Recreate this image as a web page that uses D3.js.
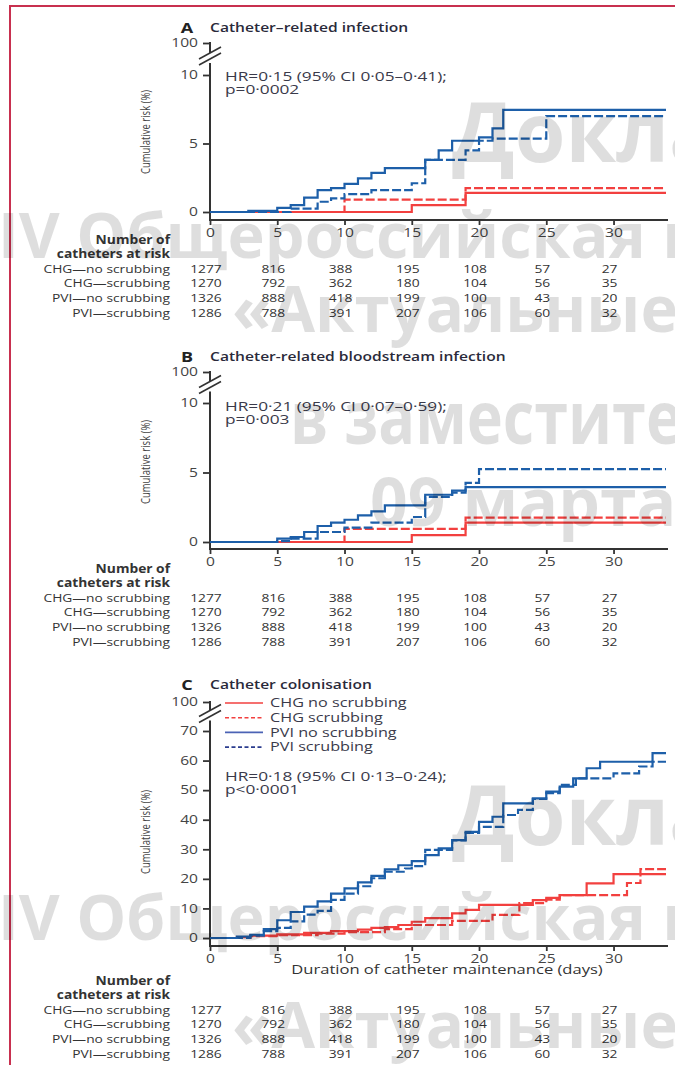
<!DOCTYPE html>
<html>
<head>
<meta charset="utf-8">
<script src="https://cdnjs.cloudflare.com/ajax/libs/d3/7.8.5/d3.min.js"></script>
<style>
  body { margin: 0; background: #fff; }
  svg { display: block; }
</style>
</head>
<body>
<script>
const W = 675, H = 1065;

// x ticks + numbers at risk (same table under every panel)
const days = [0, 5, 10, 15, 20, 25, 30];
const groups = ["CHG\u2014no scrubbing", "CHG\u2014scrubbing", "PVI\u2014no scrubbing", "PVI\u2014scrubbing"];
const legendLabels = ["CHG no scrubbing", "CHG scrubbing", "PVI no scrubbing", "PVI scrubbing"];
const riskChgNo    = [1277, 816, 388, 195, 108, 57, 27];
const riskChgScrub = [1270, 792, 362, 180, 104, 56, 35];
const riskPviNo    = [1326, 888, 418, 199, 100, 43, 20];
const riskPviScrub = [1286, 788, 391, 207, 106, 60, 32];

// step curves, [day, cumulative risk %] at each jump
const aChgNo    = [[0,0],[15,0.5],[19,1.4]];
const aChgScrub = [[0,0],[10,0.9],[19,1.75]];
const aPviNo    = [[0,0],[2.85,0.08],[5,0.3],[6,0.5],[7,1.05],[8,1.6],[9,1.75],[10,2.05],[11,2.45],[12,2.85],[13,3.2],[16,3.8],[17,4.5],[18,5.2],[20,5.45],[21,6.1],[21.8,7.45]];
const aPviScrub = [[0,0],[6,0.25],[8,0.75],[9,1.0],[10,1.3],[12,1.6],[15,2.1],[16,3.8],[19,4.5],[20,5.2],[21,5.35],[25,7.0]];

const bChgNo    = [[0,0],[15,0.5],[19,1.4]];
const bChgScrub = [[0,0],[10,0.95],[19,1.75]];
const bPviNo    = [[0,0],[5,0.24],[6,0.36],[7,0.72],[8,1.15],[9,1.4],[10,1.6],[11,1.92],[12,2.2],[13,2.64],[16,3.4],[18,3.7],[19,3.95]];
const bPviScrub = [[0,0],[5,0.07],[6,0.24],[8,0.72],[10,1.03],[12,1.4],[15,1.8],[16,3.25],[18,3.55],[19,4.25],[20,5.25]];

const cChgNo    = [[0,0],[2,0.3],[3,0.8],[5,1.2],[7,1.7],[9,2.3],[11,2.8],[12,3.4],[13,3.7],[14,4.4],[15,5.5],[16,6.7],[18,8.3],[19,9.5],[20,11.2],[24,12.8],[25,13.6],[26,14.5],[28,18.5],[30,21.6]];
const cChgScrub = [[0,0],[3,0.6],[5,1.0],[8,1.5],[10,2.0],[13,3.0],[15,4.4],[18,5.8],[21,7.8],[23,11.8],[25,13],[26,14.5],[31,18.6],[32,23.3]];
const cPviNo    = [[0,0],[2,0.5],[3,1.1],[4,3.0],[5,6.0],[6,8.8],[7,10.6],[8,12.4],[9,15],[10,16.8],[11,18.8],[12,21],[13,23.2],[14,24.6],[15,26],[16,28],[17,30.3],[18,33.1],[19,35.9],[20,39.3],[21,41],[21.8,45.5],[24,47.2],[25,49.5],[26,51.2],[27,54],[28,57.4],[29,59.6],[32.9,62.5]];
const cPviScrub = [[0,0],[3,0.8],[4,2.3],[5,3.4],[6,5.6],[7,7.9],[8,9.2],[9,12.9],[10,15],[11,17.5],[12,20.2],[13,22.4],[14.5,23.5],[15,24.3],[16,29.8],[18,33],[19,35.5],[20,37.6],[21.8,41.6],[22.9,43.3],[24,47],[25,49],[26,51.8],[27.2,54],[30,55.7],[31.9,58],[32.9,59.6]];

const watermark = ["\u0414\u043e\u043a\u043b\u0430", "IV \u041e\u0431\u0449\u0435\u0440\u043e\u0441\u0441\u0438\u0439\u0441\u043a\u0430\u044f \u043d",
  "\u00ab\u0410\u043a\u0442\u0443\u0430\u043b\u044c\u043d\u044b\u0435", "\u0432 \u0437\u0430\u043c\u0435\u0441\u0442\u0438\u0442\u0435", "09 \u043c\u0430\u0440\u0442\u0430"];

const risk = [riskChgNo, riskChgScrub, riskPviNo, riskPviScrub];
const red = "#f2403f", blue = "#1d5fa9";
const ink = "#333";
const SX = 1.3;   // the source figure is stretched sideways
const xEnd = 33.9;

const panels = [
  {letter: "A", title: "Catheter\u2013related infection", hr: ["HR=0\u00b715 (95% CI 0\u00b705\u20130\u00b741);", "p=0\u00b70002"],
   yDomain: [0, 10, 100], yRange: [212, 75, 43], yTicks: [0, 5, 10, 100], axisY: 220, titleY: 28, hrY: 77, ylabY: 132,
   tableY: 240, curves: [aChgNo, aChgScrub, aPviNo, aPviScrub]},
  {letter: "B", title: "Catheter-related bloodstream infection", hr: ["HR=0\u00b721 (95% CI 0\u00b707\u20130\u00b759);", "p=0\u00b7003"],
   yDomain: [0, 10, 100], yRange: [542, 403, 372], yTicks: [0, 5, 10, 100], axisY: 549, titleY: 357, hrY: 407, ylabY: 462,
   tableY: 569, curves: [bChgNo, bChgScrub, bPviNo, bPviScrub]},
  {letter: "C", title: "Catheter colonisation", hr: ["HR=0\u00b718 (95% CI 0\u00b713\u20130\u00b724);", "p<0\u00b70001"],
   yDomain: [0, 70, 100], yRange: [938, 731, 702], yTicks: [0, 10, 20, 30, 40, 50, 60, 70, 100], axisY: 946, titleY: 685, hrY: 777, ylabY: 832,
   tableY: 981, curves: [cChgNo, cChgScrub, cPviNo, cPviScrub], legend: true, xTitle: "Duration of catheter maintenance (days)"}
];

const svg = d3.select("body").append("svg")
  .attr("width", W).attr("height", H)
  .style("font-family", "'Open Sans', sans-serif");

const x = d3.scaleLinear().domain([0, xEnd]).range([210, 666]);

// stretched text helper
function label(g, tx, ty, str, size, opts = {}) {
  return g.append("text")
    .attr("transform", `translate(${tx},${ty}) scale(${opts.sx || SX},1)`)
    .attr("text-anchor", opts.anchor || "start")
    .attr("dy", "0.35em")
    .attr("font-size", size)
    .attr("font-weight", opts.weight || 400)
    .attr("fill", opts.fill || ink)
    .text(str);
}

const styles = [
  {color: red, dash: null}, {color: red, dash: "9,3"},
  {color: blue, dash: null}, {color: blue, dash: "9,3"}
];

panels.forEach(p => {
  const g = svg.append("g");
  const y = d3.scaleLinear().domain(p.yDomain).range(p.yRange);

  // title
  label(g, 187, p.titleY, p.letter, 15, {anchor: "middle", weight: 700, sx: 1.2, fill: "#222"});
  label(g, 210, p.titleY, p.title, 12, {weight: 600, fill: "#2a2a3a"});

  // y axis with break
  const yAxis = d3.axisLeft(y).tickValues(p.yTicks).tickSize(7).tickPadding(5).tickSizeOuter(0);
  const ga = g.append("g").attr("transform", "translate(210,0)").call(yAxis);
  ga.select(".domain").remove();
  ga.attr("font-family", null);
  ga.selectAll(".tick line").attr("stroke", ink).attr("stroke-width", 1.8);
  ga.selectAll(".tick text")
    .attr("font-size", 12).attr("fill", "#444")
    .attr("x", -12 / SX)
    .attr("transform", `scale(${SX},1)`);

  const top = p.yRange[2], mid = (p.yRange[1] + p.yRange[2]) / 2;
  g.append("line").attr("x1", 210).attr("x2", 210).attr("y1", p.axisY).attr("y2", mid + 4)
    .attr("stroke", ink).attr("stroke-width", 2);
  g.append("line").attr("x1", 210).attr("x2", 210).attr("y1", mid - 6).attr("y2", top - 1)
    .attr("stroke", ink).attr("stroke-width", 2);
  [0, 6].forEach(o => {
    g.append("line").attr("x1", 199).attr("y1", mid + 6 - o).attr("x2", 221).attr("y2", mid - 6 - o)
      .attr("stroke", ink).attr("stroke-width", 1.6);
  });

  // y label
  g.append("text")
    .attr("transform", `translate(150,${p.ylabY}) rotate(-90) scale(1,1.3)`)
    .attr("text-anchor", "middle")
    .attr("font-size", 9.5).attr("fill", "#444")
    .text("Cumulative risk (%)");

  // x axis
  const xAxis = d3.axisBottom(x).tickValues(days).tickSize(5).tickPadding(3).tickSizeOuter(0);
  const gx = g.append("g").attr("transform", `translate(0,${p.axisY})`).call(xAxis);
  gx.attr("font-family", null);
  gx.select(".domain").attr("stroke", ink).attr("stroke-width", 2).attr("d", `M209,0H668`);
  gx.selectAll(".tick line").attr("stroke", ink).attr("stroke-width", 1.8);
  gx.selectAll(".tick text").attr("font-size", 12).attr("fill", "#444")
    .attr("transform", `scale(${SX},1)`);

  if (p.xTitle) label(g, 447, p.axisY + 24, p.xTitle, 12, {anchor: "middle", sx: 1.38});

  // curves
  const line = d3.line().x(d => x(d[0])).y(d => y(d[1])).curve(d3.curveStepAfter);
  p.curves.forEach((pts, i) => {
    const full = pts.concat([[xEnd, pts[pts.length - 1][1]]]);
    g.append("path").datum(full)
      .attr("d", line)
      .attr("fill", "none")
      .attr("stroke", styles[i].color)
      .attr("stroke-width", 2.2)
      .attr("stroke-dasharray", styles[i].dash);
  });

  // HR text
  label(g, 225, p.hrY, p.hr[0], 12.5, {sx: 1.38, fill: "#3a3a4a"});
  label(g, 225, p.hrY + 13, p.hr[1], 12.5, {sx: 1.38, fill: "#3a3a4a"});

  // legend
  if (p.legend) {
    const legCol = [red, red, "#4b63b5", "#2b3c8e"];
    const legDash = [null, "4,2.5", null, "4,2.5"];
    legendLabels.forEach((t, i) => {
      const ly = 703 + i * 14.7;
      g.append("line").attr("x1", 225).attr("x2", 263).attr("y1", ly).attr("y2", ly)
        .attr("stroke", legCol[i]).attr("stroke-width", 1.6).attr("stroke-dasharray", legDash[i]);
      label(g, 270, ly, t, 12, {sx: 1.35, fill: "#3a3a4a"});
    });
  }

  // numbers at risk
  const t0 = p.tableY;
  label(g, 170, t0, "Number of", 11.5, {anchor: "end", weight: 700, sx: 1.2});
  label(g, 170, t0 + 13.5, "catheters at risk", 11.5, {anchor: "end", weight: 700, sx: 1.2});
  groups.forEach((name, r) => {
    const ry = t0 + 28.5 + r * 14.8;
    label(g, 170, ry, name, 11.5, {anchor: "end", sx: 1.2});
    risk[r].forEach((v, k) => label(g, x(days[k]) - 4, ry, v, 11.5, {anchor: "middle", sx: 1.2}));
  });
});

// page frame
svg.append("line").attr("x1", 10).attr("x2", 10).attr("y1", 5).attr("y2", H).attr("stroke", "#c8304f").attr("stroke-width", 2);
svg.append("line").attr("x1", 9).attr("x2", W).attr("y1", 6).attr("y2", 6).attr("stroke", "#c8304f").attr("stroke-width", 2);

// watermark over the figure
const wm = svg.append("g").attr("font-weight", 700).attr("fill", "#000").attr("fill-opacity", 0.13);
const wmRows = [
  {t: 0, x: 452, y: 162, s: 82}, {t: 1, x: -2, y: 258, s: 63}, {t: 2, x: 232, y: 332, s: 64, len: 446},
  {t: 3, x: 290, y: 444, s: 74, len: 392}, {t: 4, x: 370, y: 526, s: 66},
  {t: 0, x: 452, y: 845, s: 82}, {t: 1, x: -2, y: 940, s: 63}, {t: 2, x: 232, y: 1048, s: 64, len: 446}
];
wmRows.forEach(r => {
  const t = wm.append("text").attr("x", r.x).attr("y", r.y).attr("font-size", r.s).text(watermark[r.t]);
  if (r.len) t.attr("textLength", r.len).attr("lengthAdjust", "spacingAndGlyphs");
});
</script>
</body>
</html>
